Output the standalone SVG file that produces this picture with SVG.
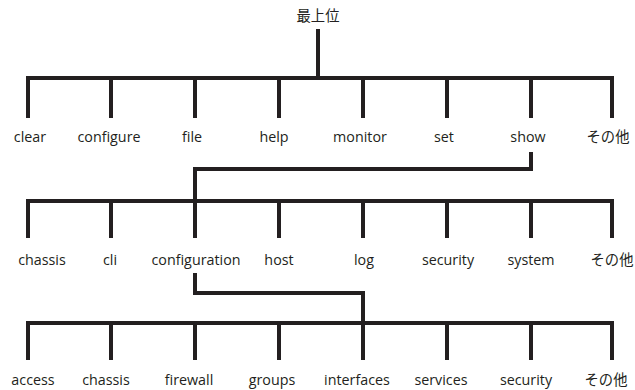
<svg xmlns="http://www.w3.org/2000/svg" width="635" height="390" viewBox="0 0 635 390">
  <style>
    .bg { fill: #ffffff; }
    .ln { fill: none; stroke: #231f20; stroke-width: 4; stroke-linecap: butt; stroke-linejoin: miter; }
    .lb { font-family: "Open Sans", "Noto Sans CJK JP", sans-serif; font-size: 14.3px; fill: #231f20; text-anchor: middle; }
  </style>
  <rect class="bg" x="0" y="0" width="635" height="390"/>

  <g id="connectors">
    <!-- root to level 1 -->
    <path class="ln" d="M318 29 V78"/>
    <path class="ln" d="M28 118 V78 H612 V118"/>
    <path class="ln" d="M111 78 V118 M195 78 V118 M279 78 V118 M363 78 V118 M447 78 V118 M531 78 V118"/>
    <!-- show to level 2 -->
    <path class="ln" d="M531 152 V169 H195 V201"/>
    <path class="ln" d="M28 238 V201 H612 V238"/>
    <path class="ln" d="M111 201 V238 M195 201 V238 M279 201 V238 M363 201 V238 M447 201 V238 M531 201 V238"/>
    <!-- configuration to level 3 -->
    <path class="ln" d="M195 273 V293 H363 V323"/>
    <path class="ln" d="M28 360 V323 H612 V360"/>
    <path class="ln" d="M111 323 V360 M195 323 V360 M279 323 V360 M363 323 V360 M447 323 V360 M531 323 V360"/>
  </g>

  <g id="root"><text class="lb" x="318" y="21">最上位</text></g>

  <g id="level1">
    <g id="n-clear"><text class="lb" x="30" y="142">clear</text></g>
    <g id="n-configure"><text class="lb" x="109" y="142">configure</text></g>
    <g id="n-file"><text class="lb" x="192" y="142">file</text></g>
    <g id="n-help"><text class="lb" x="274" y="142">help</text></g>
    <g id="n-monitor"><text class="lb" x="360" y="142">monitor</text></g>
    <g id="n-set"><text class="lb" x="444" y="142">set</text></g>
    <g id="n-show"><text class="lb" x="528" y="142">show</text></g>
    <g id="n-other1"><text class="lb" x="608" y="142">その他</text></g>
  </g>

  <g id="level2">
    <g id="n-chassis"><text class="lb" x="42" y="265">chassis</text></g>
    <g id="n-cli"><text class="lb" x="110" y="265">cli</text></g>
    <g id="n-configuration"><text class="lb" x="196" y="265">configuration</text></g>
    <g id="n-host"><text class="lb" x="279" y="265">host</text></g>
    <g id="n-log"><text class="lb" x="364" y="265">log</text></g>
    <g id="n-security"><text class="lb" x="448" y="265">security</text></g>
    <g id="n-system"><text class="lb" x="531" y="265">system</text></g>
    <g id="n-other2"><text class="lb" x="612" y="265">その他</text></g>
  </g>

  <g id="level3">
    <g id="n-access"><text class="lb" x="33" y="385">access</text></g>
    <g id="n-chassis2"><text class="lb" x="106" y="385">chassis</text></g>
    <g id="n-firewall"><text class="lb" x="189" y="385">firewall</text></g>
    <g id="n-groups"><text class="lb" x="272" y="385">groups</text></g>
    <g id="n-interfaces"><text class="lb" x="357" y="385">interfaces</text></g>
    <g id="n-services"><text class="lb" x="441" y="385">services</text></g>
    <g id="n-security2"><text class="lb" x="526" y="385">security</text></g>
    <g id="n-other3"><text class="lb" x="606" y="385">その他</text></g>
  </g>
</svg>
